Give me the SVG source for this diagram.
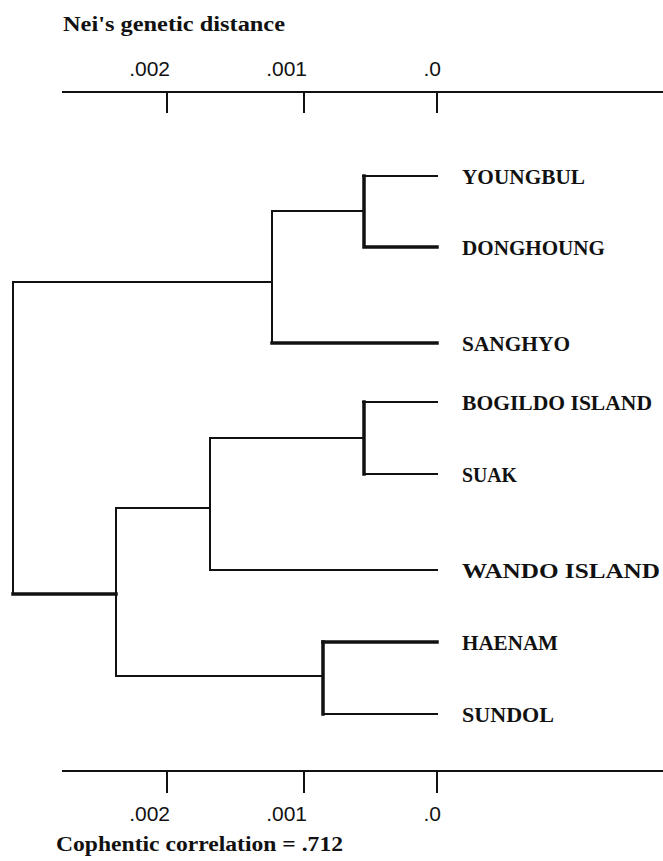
<svg xmlns="http://www.w3.org/2000/svg" width="663" height="861" viewBox="0 0 663 861">
<style>
.ln{stroke:#111;stroke-width:2;fill:none;stroke-linecap:square}
.tk{stroke:#111;stroke-width:2;fill:none}
.th{stroke:#111;stroke-width:3.5;fill:none;stroke-linecap:square}
.lab{font-family:"Liberation Serif","DejaVu Serif",serif;font-weight:bold;font-size:20px;fill:#111}
.num{font-family:"Liberation Sans",Arial,sans-serif;font-size:21px;fill:#111;text-anchor:end}
.ttl{font-family:"Liberation Serif","DejaVu Serif",serif;font-weight:bold;font-size:20px;fill:#111}
</style>
<rect width="663" height="861" fill="#fff"/>
<g id="top-axis">
<text class="ttl" x="63" y="31" textLength="222" lengthAdjust="spacingAndGlyphs">Nei's genetic distance</text>
<line class="ln" x1="63" y1="92" x2="663" y2="92"/>
<line class="tk" x1="167" y1="92" x2="167" y2="113"/>
<line class="tk" x1="304" y1="92" x2="304" y2="113"/>
<line class="tk" x1="437" y1="92" x2="437" y2="113"/>
<text class="num" x="170" y="76">.002</text>
<text class="num" x="307" y="76">.001</text>
<text class="num" x="441" y="76">.0</text>
</g>
<g id="connectors">
<path class="ln" d="M363 176 H437"/>
<path class="th" d="M364 176 V247 H437"/>
<path class="ln" d="M272 211 H363"/>
<path class="ln" d="M272 211 V343"/>
<path class="th" d="M272 343 H437"/>
<path class="ln" d="M13 282 H272"/>
<path class="ln" d="M13 282 V594"/>
<path class="ln" d="M363 402 H437"/>
<path class="th" d="M364 402 V474"/>
<path class="ln" d="M364 474 H437"/>
<path class="ln" d="M210 438 H363"/>
<path class="ln" d="M210 438 V570 H437"/>
<path class="ln" d="M116 508 H210"/>
<path class="th" d="M13 594 H116"/>
<path class="ln" d="M116 508 V676 H322"/>
<path class="th" d="M323 642 H437"/>
<path class="th" d="M323 642 V714"/>
<path class="ln" d="M324 714 H437"/>
</g>
<g id="n-youngbul"><text class="lab" x="462" y="184" textLength="123" lengthAdjust="spacingAndGlyphs">YOUNGBUL</text></g>
<g id="n-donghoung"><text class="lab" x="462" y="255" textLength="143" lengthAdjust="spacingAndGlyphs">DONGHOUNG</text></g>
<g id="n-sanghyo"><text class="lab" x="462" y="351" textLength="108" lengthAdjust="spacingAndGlyphs">SANGHYO</text></g>
<g id="n-bogildo"><text class="lab" x="462" y="410" textLength="190" lengthAdjust="spacingAndGlyphs">BOGILDO ISLAND</text></g>
<g id="n-suak"><text class="lab" x="462" y="482" textLength="55" lengthAdjust="spacingAndGlyphs">SUAK</text></g>
<g id="n-wando"><text class="lab" x="462" y="578" textLength="198" lengthAdjust="spacingAndGlyphs">WANDO ISLAND</text></g>
<g id="n-haenam"><text class="lab" x="462" y="650" textLength="96" lengthAdjust="spacingAndGlyphs">HAENAM</text></g>
<g id="n-sundol"><text class="lab" x="462" y="722" textLength="92" lengthAdjust="spacingAndGlyphs">SUNDOL</text></g>
<g id="bottom-axis">
<line class="ln" x1="63" y1="771" x2="663" y2="771"/>
<line class="tk" x1="167" y1="771" x2="167" y2="793"/>
<line class="tk" x1="304" y1="771" x2="304" y2="793"/>
<line class="tk" x1="437" y1="771" x2="437" y2="793"/>
<text class="num" x="170" y="821">.002</text>
<text class="num" x="307" y="821">.001</text>
<text class="num" x="441" y="821">.0</text>
<text class="ttl" x="56" y="851" textLength="287" lengthAdjust="spacingAndGlyphs">Cophentic correlation = .712</text>
</g>
</svg>
